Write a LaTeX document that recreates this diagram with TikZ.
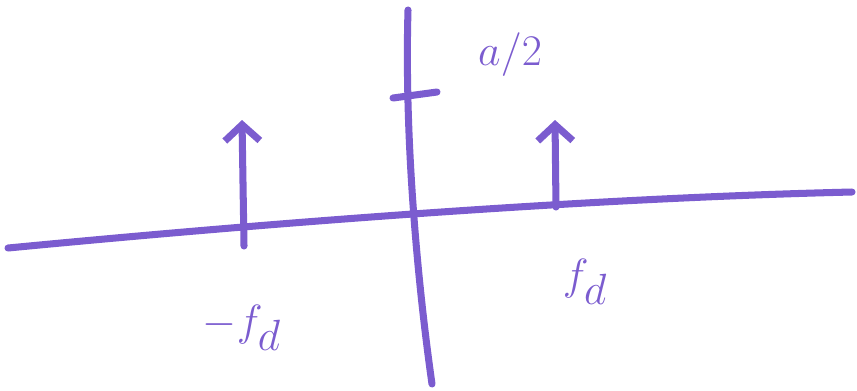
\documentclass[tikz,border=0pt]{standalone}
\usepackage{xcolor}
\usepackage{tikz}
\usetikzlibrary{arrows.meta,positioning,calc}
\definecolor{penpurple}{HTML}{7B5CCF}

\begin{document}
\begin{tikzpicture}[
  x=0.02cm, y=-0.02cm,
  axis/.style={line width=4pt, penpurple, line cap=round},
  impulse/.style={line width=4pt, penpurple, line cap=round, -{Straight Barb[length=3.2mm, width=7mm, line width=4pt]}},
  lbl/.style={text=penpurple, font=\fontsize{36}{36}\selectfont}
]
\useasboundingbox (0,0) rectangle (857,390);
% axes
\coordinate (xl) at (8,248);
\coordinate (xr) at (852,192);
\coordinate (yt) at (408,10);
\coordinate (yb) at (432,384);
\draw[axis] (xl) .. controls (300,220) and (600,198) .. (xr);
\draw[axis] (yt) .. controls (404,150) and (420,300) .. (yb);
% tick for the height
\coordinate (tl) at (393,98);
\coordinate (tr) at (437,92);
\draw[axis] (tl) -- (tr);
% impulses
\coordinate (lb) at (244,246);
\coordinate (lt) at (242,120);
\coordinate (rb) at (556,207);
\coordinate (rt) at (555,120);
\draw[impulse] (lb) -- (lt);
\draw[impulse] (rb) -- (rt);
% labels
\node[lbl] (height) at (510,55) {$a/2$};
\node[lbl] (fneg) at (242,328) {$-f_d$};
\node[lbl] (fpos) at (585,282) {$f_d$};
\end{tikzpicture}
\end{document}
